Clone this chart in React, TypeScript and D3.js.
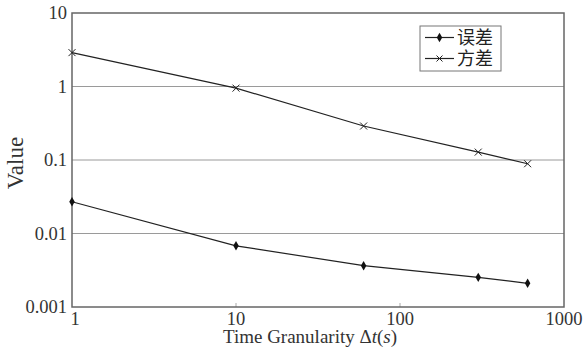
import * as d3 from 'd3';
import React, { useEffect, useRef } from 'react';

const granularity = [1, 10, 60, 300, 600];
const errorValues = [0.027, 0.0068, 0.00365, 0.00253, 0.0021];
const varianceValues = [2.89, 0.95, 0.29, 0.128, 0.089];
const yTicks = [0.001, 0.01, 0.1, 1, 10];
const yTickLabels = ['0.001', '0.01', '0.1', '1', '10'];
const xTicks = [1, 10, 100, 1000];
const xTickLabels = ['1', '10', '100', '1000'];
const seriesNames = ['误差', '方差'];

const App: React.FC = () => {
    const ref = useRef<SVGSVGElement | null>(null);

    useEffect(() => {
        const width = 583, height = 351;
        const margin = { top: 13, right: 19, bottom: 44, left: 72 };
        const serif = '"Liberation Serif", "DejaVu Serif", serif';

        const svg = d3.select(ref.current).html('');

        const x = d3.scaleLog().domain([1, 1000]).range([margin.left, width - margin.right]);
        const y = d3.scaleLog().domain([0.001, 10]).range([height - margin.bottom, margin.top]);

        // gridlines
        svg.append('g')
            .selectAll('line')
            .data([0.01, 0.1, 1])
            .join('line')
            .attr('x1', x(1)).attr('x2', x(1000))
            .attr('y1', d => y(d)).attr('y2', d => y(d))
            .attr('stroke', '#9a9a9a').attr('stroke-width', 1);

        // small x tick marks
        svg.append('g')
            .selectAll('line')
            .data([10, 100])
            .join('line')
            .attr('x1', d => x(d)).attr('x2', d => x(d))
            .attr('y1', y(0.001)).attr('y2', y(0.001) - 4)
            .attr('stroke', '#aaa');

        // frame
        svg.append('rect')
            .attr('x', x(1)).attr('y', y(10))
            .attr('width', x(1000) - x(1)).attr('height', y(0.001) - y(10))
            .attr('fill', 'none').attr('stroke', '#666').attr('stroke-width', 1.5);

        // y tick labels
        svg.append('g')
            .selectAll('text')
            .data(yTicks)
            .join('text')
            .attr('x', x(1) - 5)
            .attr('y', d => y(d) + 6)
            .attr('text-anchor', 'end')
            .style('font-family', serif).style('font-size', '18.5px').attr('fill', '#333')
            .text((d, i) => yTickLabels[i]);

        // x tick labels
        svg.append('g')
            .selectAll('text')
            .data(xTicks)
            .join('text')
            .attr('x', (d, i) => x(d) + (i === 0 ? 3 : 0))
            .attr('y', y(0.001) + 18)
            .attr('text-anchor', 'middle')
            .style('font-family', serif).style('font-size', '18.5px').attr('fill', '#333')
            .text((d, i) => xTickLabels[i]);

        // axis titles
        const xt = svg.append('text')
            .attr('x', (x(1) + x(1000)) / 2 - 8)
            .attr('y', 343)
            .attr('text-anchor', 'middle')
            .style('font-family', serif).style('font-size', '19px').attr('fill', '#333');
        xt.append('tspan').text('Time Granularity Δ');
        xt.append('tspan').style('font-style', 'italic').text('t');
        xt.append('tspan').text('(');
        xt.append('tspan').style('font-style', 'italic').text('s');
        xt.append('tspan').text(')');

        svg.append('text')
            .attr('transform', 'translate(23, 163) rotate(-90)')
            .attr('text-anchor', 'middle')
            .style('font-family', serif).style('font-size', '23px').attr('fill', '#333')
            .text('Value');

        const line = d3.line<[number, number]>().x(d => x(d[0])).y(d => y(d[1]));
        const errPts = granularity.map((g, i) => [g, errorValues[i]] as [number, number]);
        const varPts = granularity.map((g, i) => [g, varianceValues[i]] as [number, number]);

        svg.append('path').datum(errPts).attr('d', line)
            .attr('fill', 'none').attr('stroke', '#222').attr('stroke-width', 1.2);
        svg.append('path').datum(varPts).attr('d', line)
            .attr('fill', 'none').attr('stroke', '#222').attr('stroke-width', 1.2);

        const diamond = d3.symbol().type(d3.symbolDiamond).size(26);
        svg.append('g')
            .selectAll('path')
            .data(errPts)
            .join('path')
            .attr('transform', d => `translate(${x(d[0])},${y(d[1])})`)
            .attr('d', diamond)
            .attr('fill', '#111');

        const cross = (cx: number, cy: number, r: number) =>
            `M${cx - r},${cy - r}L${cx + r},${cy + r}M${cx - r},${cy + r}L${cx + r},${cy - r}`;
        svg.append('g')
            .selectAll('path')
            .data(varPts)
            .join('path')
            .attr('d', d => cross(x(d[0]), y(d[1]), 3.5))
            .attr('stroke', '#222').attr('stroke-width', 1).attr('fill', 'none');

        // legend
        const lg = svg.append('g').attr('transform', 'translate(420, 26)');
        lg.append('rect').attr('width', 81).attr('height', 45)
            .attr('fill', '#fff').attr('stroke', '#777').attr('stroke-width', 1);
        seriesNames.forEach((name, i) => {
            const cy = 11.5 + i * 21;
            lg.append('line').attr('x1', 5).attr('x2', 34).attr('y1', cy).attr('y2', cy)
                .attr('stroke', '#222').attr('stroke-width', 1.2);
            if (i === 0) {
                lg.append('path').attr('transform', `translate(19.5,${cy})`).attr('d', diamond).attr('fill', '#111');
            } else {
                lg.append('path').attr('d', cross(19.5, cy, 3)).attr('stroke', '#222').attr('fill', 'none');
            }
            lg.append('text').attr('x', 37).attr('y', cy + 6)
                .style('font-family', '"Noto Sans CJK SC", sans-serif').style('font-size', '18px')
                .attr('fill', '#222')
                .text(name);
        });
    }, []);

    return <svg ref={ref} width={583} height={351} style={{ position: 'absolute', left: 0, top: 0 }} />;
};

export default App;
